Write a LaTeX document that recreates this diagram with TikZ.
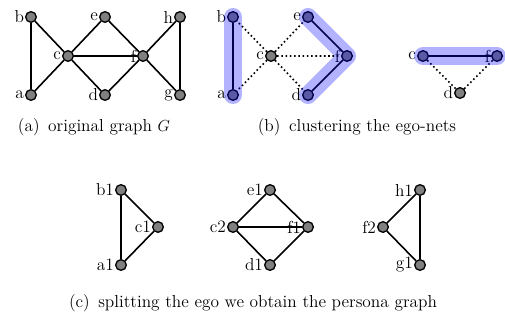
\documentclass[11pt,tikz,border=0pt]{standalone}
\usetikzlibrary{positioning}
\tikzset{
  vtx/.style={circle, draw=black, fill=gray, line width=1pt, inner sep=0pt, minimum size=8pt},
  lbl/.style={label={[inner sep=0.6pt]left:#1}},
  edge/.style={line width=1.2pt},
  dots/.style={dotted, line width=1.2pt},
  hilite/.style={blue, opacity=0.3, line width=13.5pt, line cap=round, line join=round},
}
\begin{document}
\begin{tikzpicture}[x=0.75pt, y=-0.75pt, every label/.style={font=\fontsize{13}{15}\selectfont},
    every node/.append style={font=\fontsize{13}{15}\selectfont}]
    \useasboundingbox (0,0) rectangle (505,320);
    % (a) original graph
    \node[vtx, lbl=b] (gb) at (31,17) {};
    \node[vtx, lbl=a] (ga) at (31,95) {};
    \node[vtx, lbl=c] (gc) at (68,56) {};
    \node[vtx, lbl=e] (ge) at (105,17) {};
    \node[vtx, lbl=d] (gd) at (105,95) {};
    \node[vtx, lbl=f] (gf) at (143,56) {};
    \node[vtx, lbl=h] (gh) at (180,17) {};
    \node[vtx, lbl=g] (gg) at (180,95) {};
    \draw[edge] (ga) -- (gb) -- (gc) -- (ga) (gc) -- (ge) -- (gf) -- (gd) -- (gc) -- (gf)
        (gf) -- (gh) -- (gg) -- (gf);
    \node (capa) at (94,127) {(a)\, original graph $G$};
    % (b) ego-net of c
    \node[vtx, lbl=b] (kb) at (233,17) {};
    \node[vtx, lbl=a] (ka) at (233,95) {};
    \node[vtx, lbl=c] (kc) at (271,56) {};
    \node[vtx, lbl=e] (ke) at (308,17) {};
    \node[vtx, lbl=f] (kf) at (347,56) {};
    \node[vtx, lbl=d] (kd) at (308,95) {};
    \draw[dots] (kc) -- (kb) (kc) -- (ka) (kc) -- (ke) (kc) -- (kf) (kc) -- (kd);
    \draw[edge] (ka) -- (kb) (ke) -- (kf) -- (kd);
    \draw[hilite] (ka.center) -- (kb.center);
    \draw[hilite] (ke.center) -- (kf.center) -- (kd.center);
    % ego-net of f
    \node[vtx, lbl=c] (jc) at (423,56) {};
    \node[vtx, lbl=f] (jf) at (497,56) {};
    \node[vtx, lbl=d] (jd) at (460,93) {};
    \draw[dots] (jc) -- (jd) -- (jf);
    \draw[edge] (jc) -- (jf);
    \draw[hilite] (jc.center) -- (jf.center);
    \node (capb) at (357,127) {(b)\, clustering the ego-nets};
    % (c) persona graph
    \node[vtx, lbl=b1] (pb1) at (121,190) {};
    \node[vtx, lbl=c1] (pc1) at (158,227) {};
    \node[vtx, lbl=a1] (pa1) at (121,265) {};
    \draw[edge] (pb1) -- (pc1) -- (pa1) -- (pb1);
    \node[vtx, lbl=c2] (pc2) at (233,227) {};
    \node[vtx, lbl=e1] (pe1) at (270,190) {};
    \node[vtx, lbl=f1] (pf1) at (308,227) {};
    \node[vtx, lbl=d1] (pd1) at (270,265) {};
    \draw[edge] (pc2) -- (pe1) -- (pf1) -- (pd1) -- (pc2) -- (pf1);
    \node[vtx, lbl=h1] (ph1) at (420,190) {};
    \node[vtx, lbl=f2] (pf2) at (383,227) {};
    \node[vtx, lbl=g1] (pg1) at (420,265) {};
    \draw[edge] (ph1) -- (pf2) -- (pg1) -- (ph1);
    \node (capc) at (253,303) {(c)\, splitting the ego we obtain the persona graph};
\end{tikzpicture}
\end{document}
